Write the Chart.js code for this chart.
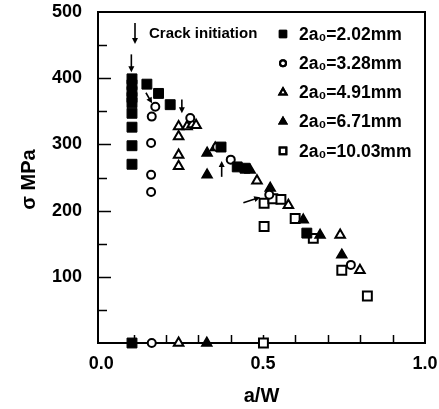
<!DOCTYPE html>
<html><head><meta charset="utf-8">
<script src="https://cdn.jsdelivr.net/npm/chart.js@4.4.1/dist/chart.umd.min.js"></script>
<style>html,body{margin:0;padding:0;background:#fff;}</style>
</head><body>
<canvas id="c" width="439" height="409" style="width:439px;height:409px;display:block"></canvas>
<script>
const FONT = "'Liberation Sans','DejaVu Sans Condensed',sans-serif";
const TICKFONT = FONT;

// ---- data (a/W, sigma MPa) ----
const seriesLabels = ['2a\u2080=2.02mm', '2a\u2080=3.28mm', '2a\u2080=4.91mm', '2a\u2080=6.71mm', '2a\u2080=10.03mm'];

const s1X = [0.095, 0.095, 0.095, 0.095, 0.095, 0.095, 0.095, 0.095, 0.095, 0.095, 0.141, 0.177, 0.213, 0.370, 0.420, 0.444, 0.635];
const s1Y = [0, 399, 390, 380, 371, 363, 347, 326, 298, 270, 391, 377, 360, 296, 266, 264, 166];

const s2X = [0.156, 0.154, 0.154, 0.154, 0.156, 0.167, 0.275, 0.358, 0.400, 0.519, 0.771];
const s2Y = [0, 228, 254, 302, 342, 357, 340, 296, 277, 224, 118];

const s3X = [0.239, 0.239, 0.239, 0.239, 0.239, 0.265, 0.281, 0.293, 0.481, 0.578, 0.738, 0.799];
const s3Y = [0, 267, 284, 312, 327, 327, 330, 329, 245, 208, 163, 110];

const s4X = [0.326, 0.327, 0.327, 0.352, 0.460, 0.522, 0.624, 0.676, 0.743];
const s4Y = [0, 254, 287, 295, 261, 234, 186, 163, 133];

const s5X = [0.501, 0.503, 0.503, 0.530, 0.555, 0.599, 0.655, 0.743, 0.822];
const s5Y = [0, 176, 211, 218, 217, 188, 158, 110, 71];

const xTickLabels = [0, 0.5, 1.0];
const yTickLabels = [100, 200, 300, 400, 500];
const xMinorTicks = [0.1, 0.2, 0.3, 0.4, 0.5, 0.6, 0.7, 0.8, 0.9];
const yMinorTicks = [50, 100, 150, 200, 250, 300, 350, 400, 450];

// crack-initiation arrows [x, y] in data units (head at "to")
const arrowsFrom = [[0.093, 436], [0.138, 378], [0.249, 368], [0.372, 251], [0.439, 212]];
const arrowsTo   = [[0.093, 409], [0.157, 362], [0.249, 347], [0.372, 275], [0.491, 220]];
const noteText = 'Crack initiation';

function pts(xs, ys) { return xs.map((x, i) => ({ x: x, y: ys[i] })); }

const styles = [
  { pointStyle: 'rect', r: 7, bg: '#000', bw: 1 },
  { pointStyle: 'circle', r: 4, bg: '#fff', bw: 2 },
  { pointStyle: 'triangle', r: 5.5, bg: '#fff', bw: 2 },
  { pointStyle: 'triangle', r: 5.8, bg: '#000', bw: 1.5 },
  { pointStyle: 'rect', r: 6.3, bg: '#fff', bw: 2 }
];
const allX = [s1X, s2X, s3X, s4X, s5X];
const allY = [s1Y, s2Y, s3Y, s4Y, s5Y];

const datasets = seriesLabels.map((lab, i) => ({
  label: lab,
  data: pts(allX[i], allY[i]),
  pointStyle: styles[i].pointStyle,
  pointRadius: styles[i].r,
  pointHoverRadius: styles[i].r,
  backgroundColor: styles[i].bg,
  borderColor: '#000',
  borderWidth: styles[i].bw,
  showLine: false,
  clip: false
}));

const decor = {
  id: 'decor',
  beforeDatasetsDraw(chart) {
    const { ctx, chartArea: a, scales: { x, y } } = chart;
    ctx.save();
    ctx.strokeStyle = '#000';
    ctx.lineWidth = 2;
    ctx.strokeRect(a.left, a.top, a.right - a.left, a.bottom - a.top);
    ctx.lineWidth = 1.5;
    ctx.beginPath();
    yMinorTicks.forEach(v => {
      const py = Math.round(y.getPixelForValue(v)) + 0.5;
      const len = (v % 100 === 0) ? 13 : 9;
      ctx.moveTo(a.left, py); ctx.lineTo(a.left + len, py);
    });
    xMinorTicks.forEach(v => {
      const px = Math.round(x.getPixelForValue(v)) + 0.5;
      ctx.moveTo(px, a.bottom); ctx.lineTo(px, a.bottom - 8);
    });
    ctx.stroke();
    ctx.restore();
  },
  afterDatasetsDraw(chart) {
    const { ctx, chartArea: a, scales: { x, y } } = chart;
    ctx.save();
    ctx.strokeStyle = '#000'; ctx.fillStyle = '#000'; ctx.lineWidth = 1.6;
    function arrow(x0, y0, x1, y1) {
      const ang = Math.atan2(y1 - y0, x1 - x0);
      const hl = 6, hw = 3;
      ctx.beginPath(); ctx.moveTo(x0, y0);
      ctx.lineTo(x1 - Math.cos(ang) * hl * 0.8, y1 - Math.sin(ang) * hl * 0.8); ctx.stroke();
      ctx.beginPath(); ctx.moveTo(x1, y1);
      ctx.lineTo(x1 - Math.cos(ang) * hl - Math.sin(ang) * hw, y1 - Math.sin(ang) * hl + Math.cos(ang) * hw);
      ctx.lineTo(x1 - Math.cos(ang) * hl + Math.sin(ang) * hw, y1 - Math.sin(ang) * hl - Math.cos(ang) * hw);
      ctx.closePath(); ctx.fill();
    }
    arrowsFrom.forEach((f, i) => {
      const t = arrowsTo[i];
      arrow(x.getPixelForValue(f[0]), y.getPixelForValue(f[1]), x.getPixelForValue(t[0]), y.getPixelForValue(t[1]));
    });
    // note arrow + text
    const nx = a.left + 37, ny = a.top + 22;
    arrow(nx, ny - 11, nx, ny + 10);
    ctx.font = 'bold 15px ' + FONT;
    ctx.textBaseline = 'middle'; ctx.textAlign = 'left';
    ctx.fillText(noteText, nx + 14, ny);
    // legend
    const lx = a.left + 185, ly0 = a.top + 22, dy = 29.2;
    chart.data.datasets.forEach((ds, i) => {
      const yy = ly0 + i * dy;
      ctx.fillStyle = ds.backgroundColor; ctx.strokeStyle = '#000';
      ctx.lineWidth = ds.borderWidth;
      Chart.helpers.drawPoint(ctx, { pointStyle: ds.pointStyle, radius: ds.pointRadius * 0.75, borderWidth: ds.borderWidth, rotation: 0 }, lx, yy);
      if (ds.borderWidth) ctx.stroke();
      ctx.fillStyle = '#000';
      ctx.font = 'bold 17.5px ' + FONT;
      ctx.fillText(ds.label, lx + 16, yy + 1);
    });
    // axis titles
    ctx.font = 'bold 20px ' + FONT;
    ctx.textAlign = 'center';
    ctx.fillText('a/W', (a.left + a.right) / 2, 396);
    ctx.translate(29, (a.top + a.bottom) / 2 + 2);
    ctx.rotate(-Math.PI / 2);
    ctx.fillText('\u03C3 MPa', 0, 0);
    ctx.restore();
  }
};

new Chart(document.getElementById('c'), {
  type: 'scatter',
  data: { datasets: datasets },
  options: {
    responsive: false,
    devicePixelRatio: 1,
    animation: false,
    events: [],
    layout: { padding: { top: 12, right: 14, left: 0, bottom: 0 } },
    plugins: { legend: { display: false }, tooltip: { enabled: false } },
    scales: {
      x: {
        type: 'linear', min: -0.01, max: 1,
        grid: { display: false, drawTicks: false },
        border: { display: false },
        afterBuildTicks: s => { s.ticks = xTickLabels.map(v => ({ value: v })); },
        afterFit: s => { s.height = 66; s.paddingLeft = 0; s.paddingRight = 0; },
        ticks: { color: '#000', padding: 10, maxRotation: 0, font: { family: TICKFONT, size: 18, weight: 'bold' },
          callback: v => Number(v).toFixed(1) }
      },
      y: {
        type: 'linear', min: 0, max: 500,
        grid: { display: false, drawTicks: false },
        border: { display: false },
        afterBuildTicks: s => { s.ticks = yTickLabels.map(v => ({ value: v })); },
        afterFit: s => { s.width = 98; s.paddingTop = 0; s.paddingBottom = 0; },
        ticks: { color: '#000', padding: 16, font: { family: TICKFONT, size: 18, weight: 'bold' } }
      }
    }
  },
  plugins: [decor]
});
</script>
</body></html>
